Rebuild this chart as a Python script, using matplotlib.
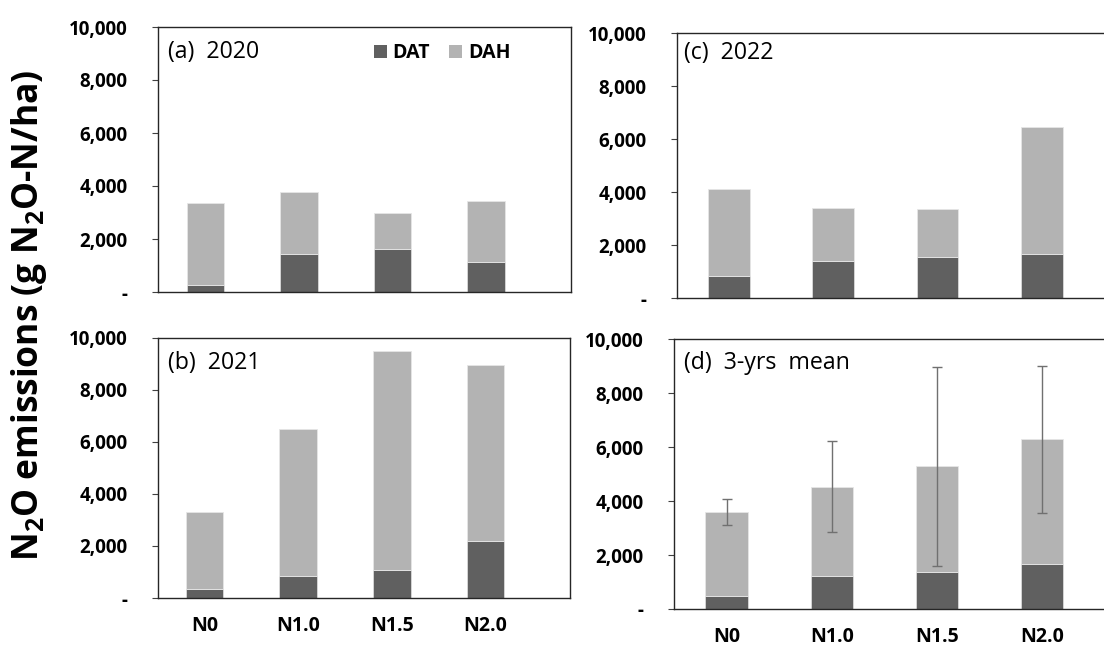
import matplotlib
matplotlib.use("Agg")
import matplotlib.pyplot as plt
from matplotlib.patches import Patch
from matplotlib.ticker import FixedLocator, FuncFormatter

plt.rcParams["font.family"] = ["Open Sans", "DejaVu Sans"]
plt.rcParams["mathtext.fontset"] = "custom"
plt.rcParams["mathtext.rm"] = "Open Sans"
plt.rcParams["mathtext.bf"] = "Open Sans:bold"

# Nitrogen treatments
treatments = ["N0", "N1.0", "N1.5", "N2.0"]

# N2O emissions (g N2O-N/ha): DAT = during cropping, DAH = after harvest
dat_2020 = [280, 1430, 1620, 1140]
dah_2020 = [3065, 2330, 1345, 2280]

dat_2021 = [330, 845, 1060, 2200]
dah_2021 = [2980, 5650, 8440, 6750]

dat_2022 = [820, 1410, 1540, 1650]
dah_2022 = [3300, 1990, 1810, 4800]

dat_mean = [480, 1220, 1380, 1675]
dah_mean = [3105, 3315, 3900, 4605]
err_mean = [480, 1675, 3670, 2735]

panel_titles = ["(a)  2020", "(b)  2021", "(c)  2022", "(d)  3-yrs  mean"]

DAT_COLOR = "#606060"
DAH_COLOR = "#b3b3b3"
W, H = 1104, 648

fig = plt.figure(figsize=(W / 100, H / 100), dpi=100)


def add_axes_px(left, right, top, bottom):
    return fig.add_axes([left / W, 1 - bottom / H, (right - left) / W, (bottom - top) / H])


def fmt(v, _pos):
    return "-" if v == 0 else f"{int(v):,}"


def draw_panel(ax, dat, dah, title, xlim, title_xy, err=None, show_x=False):
    x = list(range(len(treatments)))
    ax.bar(x, dat, width=0.4, color=DAT_COLOR, edgecolor="#d9d9d9", linewidth=0.6, zorder=2)
    tot = [a + b for a, b in zip(dat, dah)]
    ax.bar(x, dah, width=0.4, bottom=dat, color=DAH_COLOR, edgecolor="#e6e6e6",
           linewidth=0.6, zorder=2)
    if err is not None:
        ax.errorbar(x, tot, yerr=err, fmt="none", ecolor="#707070", elinewidth=1.0,
                    capsize=3.5, capthick=1.0, zorder=3)
    ax.set_xlim(*xlim)
    ax.set_ylim(0, 10000)
    ax.yaxis.set_major_locator(FixedLocator([0, 2000, 4000, 6000, 8000, 10000]))
    ax.yaxis.set_major_formatter(FuncFormatter(fmt))
    ax.tick_params(axis="y", direction="out", length=4, width=0.8, pad=18,
                   labelsize=13.5, colors="#404040", labelcolor="black")
    for lab in ax.get_yticklabels():
        lab.set_fontweight("bold")
    ax.set_xticks(x)
    if show_x:
        ax.set_xticklabels(treatments, fontsize=14, fontweight="bold")
        ax.tick_params(axis="x", length=0, pad=13)
    else:
        ax.set_xticklabels([])
        ax.tick_params(axis="x", length=0)
    for s in ax.spines.values():
        s.set_color("#262626")
        s.set_linewidth(1.0)
    ax.text(title_xy[0], title_xy[1], title, transform=ax.transAxes,
            fontsize=16.7, va="center", ha="left")


ax_a = add_axes_px(158, 571, 27, 292)
ax_b = add_axes_px(158, 570, 338, 598)
ax_c = add_axes_px(677, 1110, 33, 298)
ax_d = add_axes_px(674, 1110, 339, 609)

draw_panel(ax_a, dat_2020, dah_2020, panel_titles[0], (-0.508, 3.909),
           (10 / 413, 1 - 25 / 265))
draw_panel(ax_b, dat_2021, dah_2021, panel_titles[1], (-0.496, 3.90),
           (10 / 412, 1 - 25 / 260), show_x=True)
draw_panel(ax_c, dat_2022, dah_2022, panel_titles[2], (-0.499, 3.653),
           (7 / 433, 1 - 20 / 265))
draw_panel(ax_d, dat_mean, dah_mean, panel_titles[3], (-0.499, 3.645),
           (10 / 436, 1 - 24 / 270), err=err_mean, show_x=True)

handles = [Patch(facecolor=DAT_COLOR, edgecolor="none"),
           Patch(facecolor=DAH_COLOR, edgecolor="none")]
ax_a.legend(handles, ["DAT", "DAH"], loc="center left", bbox_to_anchor=(0.523, 0.902),
            ncol=2, frameon=False, borderpad=0, borderaxespad=0,
            handlelength=0.65, handleheight=0.65, handletextpad=0.3,
            columnspacing=1.0, prop={"size": 14, "weight": "bold"})

fig.text(29 / W, 1 - 315 / H, r"N$_\mathbf{2}$O emissions (g N$_\mathbf{2}$O-N/ha)",
         rotation=90, ha="center", va="center", fontsize=25.5, fontweight="bold")

fig.savefig("out.png", dpi=100)
